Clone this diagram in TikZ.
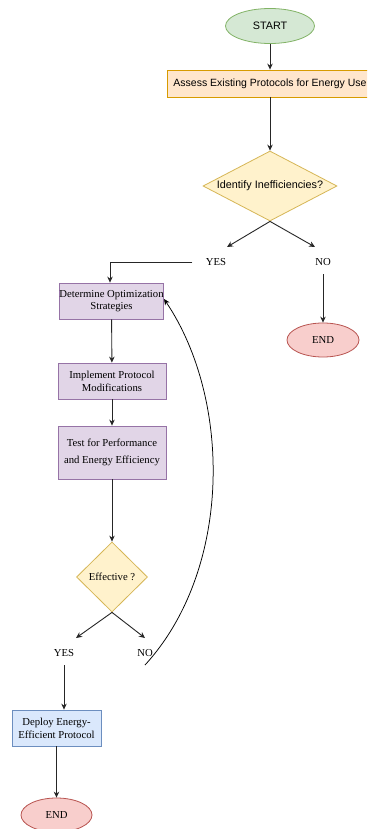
\documentclass[tikz,border=0pt]{standalone}
\usepackage{fontspec}
\setmainfont{Liberation Serif}
\newfontfamily\helv{Liberation Sans}
\usetikzlibrary{shapes.geometric,arrows.meta}
\definecolor{gfill}{HTML}{D5E8D4}\definecolor{gline}{HTML}{82B366}
\definecolor{ofill}{HTML}{FFE6CC}\definecolor{oline}{HTML}{D79B00}
\definecolor{yfill}{HTML}{FFF2CC}\definecolor{yline}{HTML}{D6B656}
\definecolor{rfill}{HTML}{F8CECC}\definecolor{rline}{HTML}{B85450}
\definecolor{pfill}{HTML}{E1D5E7}\definecolor{pline}{HTML}{9673A6}
\definecolor{bfill}{HTML}{DAE8FC}\definecolor{bline}{HTML}{6C8EBF}
\tikzset{
  base/.style={line width=0.8pt, inner sep=0pt, align=center, font=\fontsize{10.7}{12.7}\selectfont},
  sans/.style={font=\helv\fontsize{10.8}{12.7}\selectfont},
  startnode/.style={base, sans, ellipse, fill=gfill, draw=gline, minimum width=89pt, minimum height=35pt},
  endnode/.style={base, ellipse, fill=rfill, draw=rline, minimum width=72pt, minimum height=34pt},
  orangebox/.style={base, sans, rectangle, fill=ofill, draw=oline, minimum width=206pt, minimum height=27pt},
  purplebox/.style={base, rectangle, fill=pfill, draw=pline, minimum width=108pt, minimum height=36pt},
  bluebox/.style={base, rectangle, fill=bfill, draw=bline, minimum width=89pt, minimum height=36pt},
  decision/.style={base, diamond, fill=yfill, draw=yline},
  lbl/.style={base, minimum height=24pt},
  arr/.style={line width=0.9pt, draw=black!85, -{Stealth[length=6pt,width=5.5pt]}},
}
\begin{document}
\begin{tikzpicture}[x=1pt, y=-1pt]
\useasboundingbox (0,0) rectangle (367,829);
\clip (0,0) rectangle (367,829);
\fill[white] (0,0) rectangle (367,829);

\node[startnode] (start) at (270,26) {START};
\node[orangebox] (assess) at (270,83.5) {\helv\fontsize{10.5}{12.7}\selectfont Assess Existing Protocols for Energy Use};
\node[decision, sans, minimum width=134pt, minimum height=70pt, aspect=1.914] (ident) at (270,186) {Identify Inefficiencies?};
\node[lbl] (yes1) at (216,262) {YES};
\node[lbl] (no1) at (323,262) {NO};
\node[endnode] (end1) at (323,340) {END};

\node[purplebox, minimum width=103pt] (det) at (111.5,301) {Determine Optimization\\Strategies};
\node[purplebox] (impl) at (112,381) {Implement Protocol\\Modifications};
\node[purplebox, minimum height=53pt] (test) at (112,452.5) {Test for Performance\\[4.3pt]and Energy Efficiency};
\node[decision, minimum width=71pt, minimum height=70pt] (eff) at (112,577) {Effective ?};
\node[lbl] (yes2) at (64,653) {YES};
\node[lbl] (no2) at (145,653) {NO};
\node[bluebox] (deploy) at (56.5,728) {Deploy Energy-\\Efficient Protocol};
\node[endnode, minimum width=71pt] (end2) at (56.5,815) {END};

\coordinate (y1tip) at (227,247);
\coordinate (n1tip) at (315,247);
\coordinate (y2tip) at (76,638);
\coordinate (n2tip) at (145,638);
\coordinate (loopstart) at (145,665);

\draw[arr] (start) -- (assess);
\draw[arr] (assess) -- (ident);
\draw[arr] (ident.south) -- (y1tip);
\draw[arr] (ident.south) -- (n1tip);
\draw[arr] (no1.south) -- (end1.north);
\draw[arr] ([xshift=-13pt]yes1.west) -| ([xshift=-1.5pt]det.north);
\draw[arr] (det) -- (impl);
\draw[arr] (impl) -- (test);
\draw[arr] (test) -- (eff.north);
\draw[arr] (eff.south) -- (y2tip);
\draw[arr] (eff.south) -- (n2tip);
\draw[arr] (yes2.south) -- (yes2.south |- deploy.north);
\draw[arr] (deploy) -- (end2.north);
\draw[line width=0.75pt, -{Stealth[length=6pt,width=5.5pt]}] (loopstart) .. controls (232,570) and (232,400) .. ([yshift=2pt]det.east);
\end{tikzpicture}
\end{document}
